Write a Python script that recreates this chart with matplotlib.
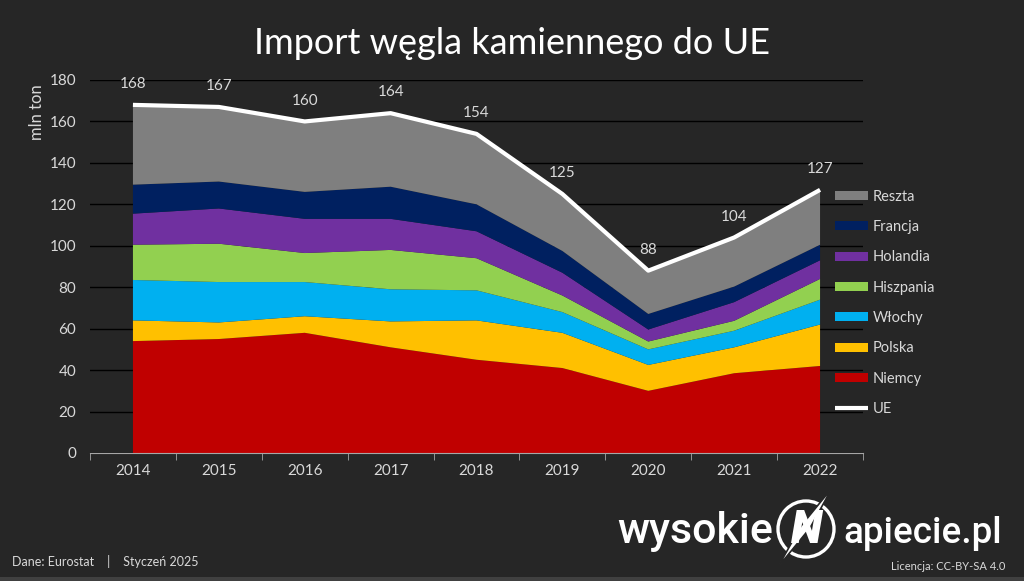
import numpy as np
import matplotlib
matplotlib.use("Agg")
import matplotlib.pyplot as plt
from matplotlib.patches import Circle, Polygon

years = ["2014", "2015", "2016", "2017", "2018", "2019", "2020", "2021", "2022"]
niemcy = [54, 55, 58, 51, 45, 41, 30, 38.5, 42]
polska = [10, 8, 8, 12.5, 19, 17, 12.5, 12.5, 20]
wlochy = [19.5, 19.5, 16.5, 15.5, 14.5, 10, 7.5, 8, 12]
hiszpania = [17, 18.5, 14, 19, 15.5, 8, 3.8, 4.8, 10]
holandia = [15, 17, 16.5, 15, 13, 11, 5.8, 9, 9]
francja = [14, 13, 13, 15.5, 13, 10.5, 7.5, 7.5, 7.5]
reszta = [38.5, 36, 34, 35.5, 34, 27.5, 20.9, 23.7, 26.5]
ue = [168, 167, 160, 164, 154, 125, 88, 104, 127]

names = ["Niemcy", "Polska", "Włochy", "Hiszpania", "Holandia", "Francja", "Reszta"]
colors = ["#c00000", "#ffc000", "#00b0f0", "#92d050", "#7030a0", "#002060", "#7f7f7f"]

bg = "#262626"
txt = "#d9d9d9"
plt.rcParams["font.family"] = ["Lato", "DejaVu Sans"]

fig = plt.figure(figsize=(10.24, 5.81), dpi=100, facecolor=bg)
ax = fig.add_axes([90 / 1024, 1 - 453 / 581, 773 / 1024, 373 / 581])
ax.set_facecolor(bg)

x = np.arange(len(years))
polys = ax.stackplot(x, niemcy, polska, wlochy, hiszpania, holandia, francja, reszta,
                     colors=colors, labels=names, linewidth=0)
line, = ax.plot(x, ue, color="white", lw=3, label="UE", solid_capstyle="butt")
for xi, v in zip(x, ue):
    ax.annotate(str(v), (xi, v), xytext=(0, 10), textcoords="offset points",
                ha="center", va="bottom", color=txt, fontsize=11)

ax.set_xlim(-0.5, 8.5)
ax.set_ylim(0, 180)
ax.set_yticks(range(0, 181, 20))
ax.set_xticks(x)
ax.set_xticklabels(years)
ax.set_xticks(np.arange(-0.5, 9, 1), minor=True)
ax.tick_params(axis="x", which="major", length=0, pad=8, colors=txt, labelsize=11)
ax.tick_params(axis="x", which="minor", length=5, direction="out", color="#a6a6a6")
ax.tick_params(axis="y", length=0, pad=10, colors=txt, labelsize=11)
ax.grid(axis="y", color="black", lw=1)
ax.set_axisbelow(True)
for s in ["top", "right", "left"]:
    ax.spines[s].set_visible(False)
ax.spines["bottom"].set_color("#a6a6a6")
ax.spines["bottom"].set_zorder(5)

fig.text(37 / 1024, 1 - 112 / 581, "mln ton", rotation=90, ha="center", va="center",
         color=txt, fontsize=12)
fig.text(0.5, 1 - 43 / 581, "Import węgla kamiennego do UE", ha="center", va="center",
         color="white", fontsize=26)

handles = polys[::-1] + [line]
labels = names[::-1] + ["UE"]
leg = fig.legend(handles, labels, loc="upper left", bbox_to_anchor=(823 / 1024, 1 - 178 / 581),
                 frameon=False, labelcolor=txt, fontsize=10.5, handlelength=2.3,
                 handleheight=0.6, labelspacing=1.12, borderpad=0.3, handletextpad=0.3)

fig.text(12 / 1024, 1 - 561 / 581, "Dane: Eurostat    |    Styczeń 2025", ha="left",
         va="center", color=txt, fontsize=9)
fig.text(1005 / 1024, 1 - 566 / 581, "Licencja: CC-BY-SA 4.0", ha="right", va="center",
         color=txt, fontsize=8)

# logo
fig.text(773 / 1024, 1 - 543 / 581, "wysokie", ha="right", va="baseline", color="white",
         fontsize=31, family="Roboto", fontweight="medium")
fig.text(1002 / 1024, 1 - 543 / 581, "apiecie.pl", ha="right", va="baseline", color="white",
         fontsize=26.5, family="Roboto", fontweight="medium")
cx, cy = 806, 529
fig.patches.append(Circle((cx, 581 - cy), 28, transform=None, fill=False, ec="white", lw=2.4,
                          figure=fig))
fig.text((cx + 1) / 1024, 1 - (cy + 1) / 581, "N", ha="center", va="center", color="white",
         fontsize=33, family="Roboto", fontweight="black", fontstyle="italic")
bolt = [(832, 581 - 488), (810, 581 - 528), (778, 581 - 567), (801, 581 - 526)]
fig.patches.append(Polygon(bolt, closed=True, transform=None, fc="white", ec=bg, lw=1.2,
                           figure=fig))

fig.patches.append(plt.Rectangle((0, 0), 1, 4 / 581, transform=fig.transFigure,
                                 fc="#404040", ec="none", figure=fig))

fig.savefig("out.png", dpi=100, facecolor=bg)
